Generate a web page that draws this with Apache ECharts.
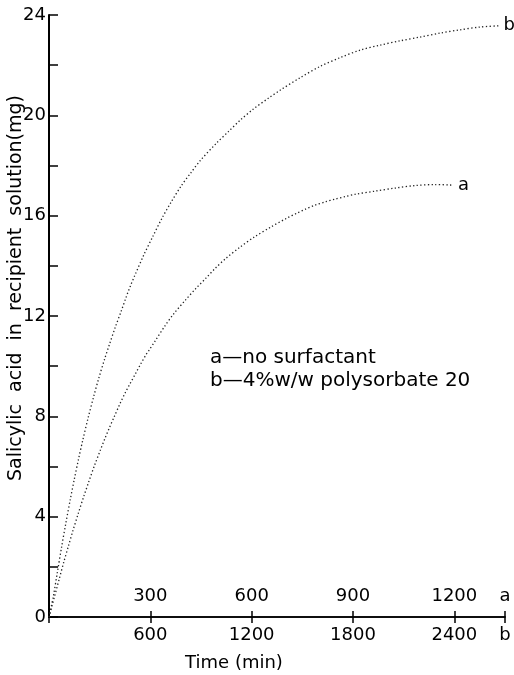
<!DOCTYPE html>
<html lang="en">
<head>
    <meta charset="UTF-8" />
    <title>Salicylic acid release</title>
    <script src="https://cdn.jsdelivr.net/npm/echarts@6/dist/echarts.min.js"></script>
</head>
<style>
    html, body { margin: 0; padding: 0; background: #fff; }
    #main { width: 514px; height: 675px; }
</style>
<body>
    <div id="main"></div>
</body>
<script type="text/javascript">
    // curve a: no surfactant (time on the upper "a" scale, min)
    var timeA = [0, 30, 44, 58, 71, 86, 104, 118, 135, 152, 165, 179, 192, 210, 226, 240, 256, 272, 287, 297, 314,
        343, 370, 405, 435, 464, 492, 524, 566, 608, 657, 704, 734, 758, 788, 818, 847, 877, 906, 966, 1025, 1084, 1143, 1193];
    var valueA = [0, 1.5, 2.2, 2.85, 3.45, 4.1, 4.85, 5.4, 6.05, 6.65, 7.1, 7.55, 7.95, 8.5, 8.95, 9.3, 9.7, 10.1, 10.45, 10.65, 11.0,
        11.6, 12.1, 12.65, 13.1, 13.5, 13.9, 14.3, 14.75, 15.15, 15.55, 15.9, 16.1, 16.25, 16.42, 16.55, 16.66, 16.76, 16.85, 16.98, 17.1, 17.2, 17.24, 17.22];

    // curve b: 4% w/w polysorbate 20 (time on the lower "b" scale, min)
    var timeB = [0, 25, 50, 75, 100, 125, 150, 175, 200, 232, 265, 294, 330, 357, 395, 428, 454, 482, 507, 559, 614, 669, 724, 784, 839, 896,
        993, 1062, 1131, 1210, 1303, 1368, 1487, 1605, 1724, 1842, 1961, 2079, 2197, 2316, 2434, 2553, 2661];
    var valueB = [0, 0.8, 1.8, 2.8, 3.75, 4.65, 5.5, 6.3, 7.05, 7.95, 8.8, 9.5, 10.3, 10.85, 11.6, 12.2, 12.7, 13.2, 13.6, 14.4, 15.16, 15.9, 16.55, 17.2, 17.7, 18.2,
        18.9, 19.35, 19.8, 20.25, 20.7, 21.0, 21.5, 21.95, 22.3, 22.6, 22.8, 22.97, 23.12, 23.28, 23.41, 23.52, 23.57];

    var ticksA = [0, 1350, 300];   // min, max, interval
    var ticksB = [0, 2700, 600];
    var yTicks = [0, 24, 2];

    var FONT = 'DejaVu Sans';

    function pairs(xs, ys) {
        return xs.map(function (x, i) { return [x, ys[i]]; });
    }

    var chart = echarts.init(document.getElementById('main'));
    chart.setOption({
        animation: false,
        backgroundColor: '#fff',
        textStyle: { fontFamily: FONT, color: '#000' },
        grid: { left: 49, right: 9, top: 15, bottom: 58, containLabel: false, outerBoundsMode: 'none' },
        xAxis: [{
            type: 'value',
            min: ticksB[0], max: ticksB[1], interval: ticksB[2],
            position: 'bottom',
            name: 'Time (min)',
            nameLocation: 'middle',
            nameGap: 37,
            nameMoveOverlap: false,
            nameTextStyle: { fontFamily: FONT, fontSize: 18, color: '#000', padding: [0, 86, 0, 0] },
            axisLine: { show: true, lineStyle: { color: '#000', width: 1.5 } },
            axisTick: { show: true, length: 6, lineStyle: { color: '#000', width: 1.5 } },
            axisLabel: {
                margin: 9, fontFamily: FONT, fontSize: 18, color: '#000', showMaxLabel: true,
                formatter: function (v) { return v === 0 ? '' : (v === ticksB[1] ? 'b' : v); }
            },
            splitLine: { show: false }
        }, {
            type: 'value',
            min: ticksA[0], max: ticksA[1], interval: ticksA[2],
            position: 'bottom',
            axisLine: { show: true, lineStyle: { color: '#000', width: 1.5 } },
            axisTick: { show: true, inside: true, length: 6, lineStyle: { color: '#000', width: 1.5 } },
            axisLabel: {
                inside: true, margin: 12, fontFamily: FONT, fontSize: 18, color: '#000', showMaxLabel: true,
                formatter: function (v) { return v === 0 ? '' : (v === ticksA[1] ? 'a' : v); }
            },
            splitLine: { show: false }
        }],
        yAxis: {
            type: 'value',
            min: yTicks[0], max: yTicks[1], interval: yTicks[2],
            name: 'Salicylic  acid  in  recipient  solution(mg)',
            nameLocation: 'middle',
            nameGap: 23,
            nameMoveOverlap: false,
            nameTextStyle: { fontFamily: FONT, fontSize: 19, color: '#000', padding: [0, 0, 0, 56] },
            axisLine: { show: true, lineStyle: { color: '#000', width: 2 } },
            axisTick: { show: true, inside: true, length: 9, lineStyle: { color: '#000', width: 1.5 } },
            axisLabel: {
                margin: 3, fontFamily: FONT, fontSize: 18, color: '#000',
                formatter: function (v) { return v % 4 === 0 ? v : ''; }
            },
            splitLine: { show: false }
        },
        graphic: [{
            type: 'text', left: 210, top: 348,
            style: { text: 'a\u2014no surfactant', font: '20px "DejaVu Sans"', fill: '#000' }
        }, {
            type: 'text', left: 210, top: 371,
            style: { text: 'b\u20144%w/w polysorbate 20', font: '20px "DejaVu Sans"', fill: '#000' }
        }],
        series: [{
            name: 'a',
            type: 'line',
            xAxisIndex: 1,
            data: pairs(timeA, valueA),
            showSymbol: false,
            smooth: 0.3,
            lineStyle: { color: '#222', width: 1.3, type: [1.3, 2.4] },
            endLabel: { show: true, formatter: 'a', distance: 6, fontFamily: FONT, fontSize: 18, color: '#000' }
        }, {
            name: 'b',
            type: 'line',
            xAxisIndex: 0,
            data: pairs(timeB, valueB),
            showSymbol: false,
            smooth: 0.3,
            lineStyle: { color: '#222', width: 1.3, type: [1.3, 2.4] },
            endLabel: { show: true, formatter: 'b', distance: 5, fontFamily: FONT, fontSize: 18, color: '#000' }
        }]
    });
</script>
</html>
